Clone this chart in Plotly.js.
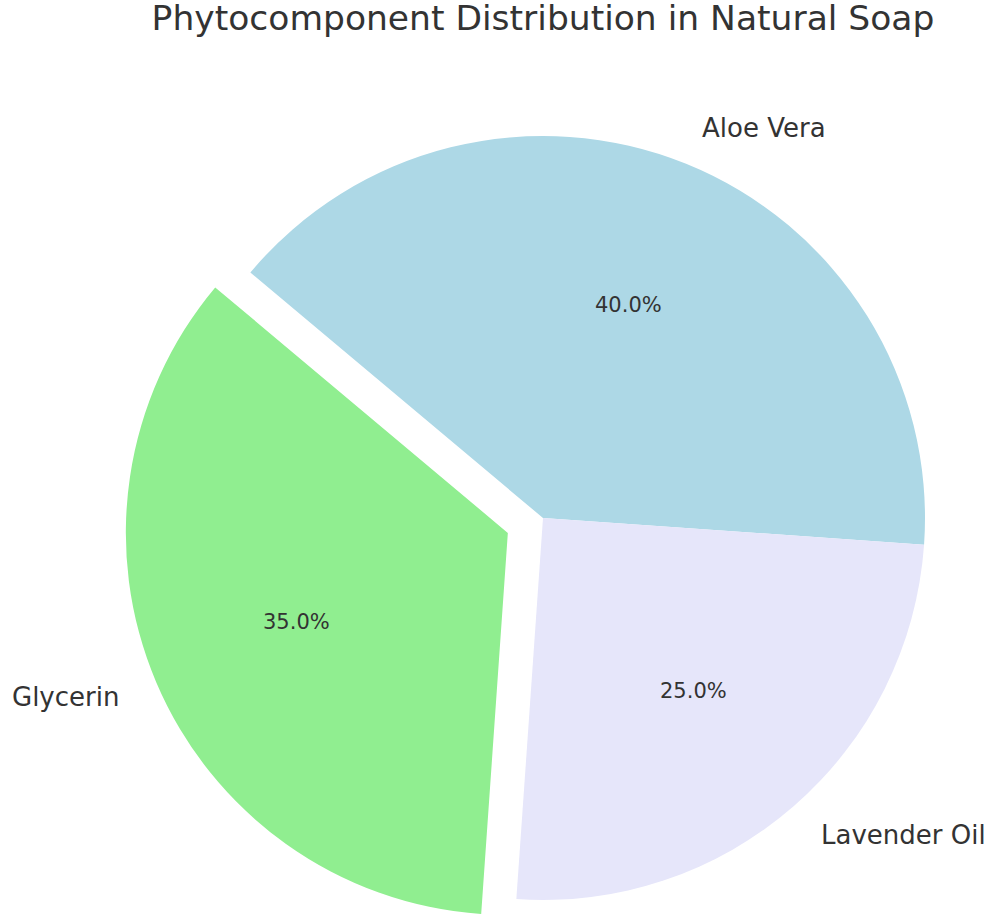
<!DOCTYPE html>
<html>
<head>
<meta charset="utf-8">
<script src="https://cdn.plot.ly/plotly-3.0.1.min.js"></script>
<style>html,body{margin:0;padding:0;background:#fff;}#chart{width:995px;height:915px;}</style>
</head>
<body>
<div id="chart"></div>
<script>
// ---- data ----
const labels = ["Aloe Vera", "Lavender Oil", "Glycerin"];
const values = [40, 25, 35];
const explode = [0, 0, 0.1];
const colors = ["#ADD8E6", "#E6E6FA", "#90EE90"];
const titleText = "Phytocomponent Distribution in Natural Soap";

// ---- layout geometry (pixels) ----
const W = 995, H = 915;
const cx = 543, cy = 518, R = 382;
const startAngle = 140; // degrees, math convention, slices run clockwise
const textColor = "#333333";
const font = "DejaVu Sans, sans-serif";

const total = values.reduce((a, b) => a + b, 0);
const transparent = "rgba(0,0,0,0)";

function dom(px, py) {
  return {
    x: [(px - R) / W, (px + R) / W],
    y: [1 - (py + R) / H, 1 - (py - R) / H]
  };
}

const traces = [];
const annotations = [];
let cum = 0;
values.forEach((v, i) => {
  const mid = (startAngle - (cum + v / 2) / total * 360) * Math.PI / 180;
  cum += v;
  const ox = cx + explode[i] * R * Math.cos(mid);
  const oy = cy - explode[i] * R * Math.sin(mid);
  const cols = values.map((_, j) => j === i ? colors[i] : transparent);
  traces.push({
    type: "pie",
    values: values,
    labels: labels,
    sort: false,
    direction: "clockwise",
    rotation: 90 - startAngle,
    marker: { colors: cols, line: { width: 0 } },
    textinfo: "none",
    hoverinfo: "skip",
    showlegend: false,
    domain: dom(ox, oy)
  });
  // outer label at 1.1 R
  const lx = ox + 1.1 * R * Math.cos(mid);
  const ly = oy - 1.1 * R * Math.sin(mid);
  annotations.push({
    x: lx / W, y: 1 - ly / H, xref: "paper", yref: "paper",
    text: labels[i], showarrow: false,
    xanchor: Math.cos(mid) > 0 ? "left" : "right", yanchor: "middle",
    font: { family: font, size: 26, color: textColor }
  });
  // percentage at 0.6 R
  const px = ox + 0.6 * R * Math.cos(mid);
  const py = oy - 0.6 * R * Math.sin(mid);
  annotations.push({
    x: px / W, y: 1 - py / H, xref: "paper", yref: "paper",
    text: (v / total * 100).toFixed(1) + "%", showarrow: false,
    xanchor: "center", yanchor: "middle",
    font: { family: font, size: 21, color: textColor }
  });
});

const layout = {
  width: W, height: H,
  margin: { l: 0, r: 0, t: 0, b: 0 },
  paper_bgcolor: "#ffffff",
  plot_bgcolor: "#ffffff",
  title: {
    text: titleText,
    x: cx / W, xanchor: "center", xref: "paper",
    y: 1 - 18 / H, yanchor: "middle", yref: "container",
    font: { family: font, size: 34.5, color: textColor }
  },
  annotations: annotations,
  showlegend: false
};

Plotly.newPlot("chart", traces, layout, { displayModeBar: false, staticPlot: true });
</script>
</body>
</html>
